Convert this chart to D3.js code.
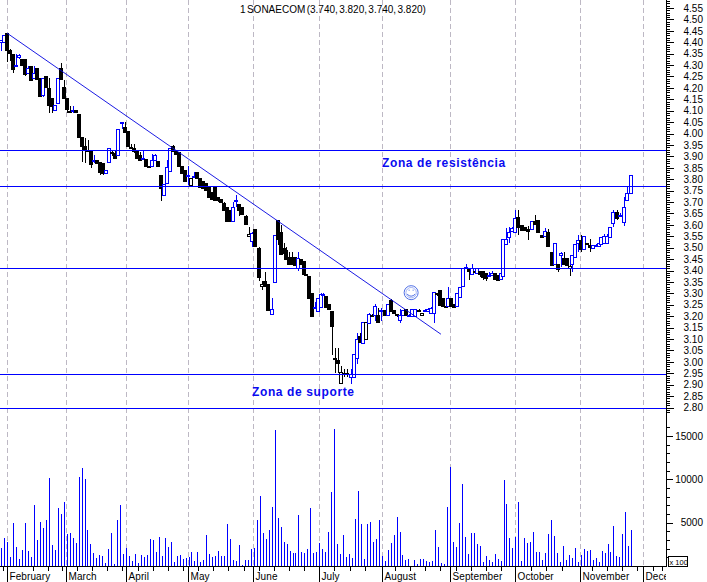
<!DOCTYPE html>
<html><head><meta charset="utf-8">
<script src="https://cdnjs.cloudflare.com/ajax/libs/d3/7.8.5/d3.min.js"></script>
<style>
html,body{margin:0;padding:0;background:#fff;overflow:hidden}
svg{display:block}
text{font-family:"Liberation Sans",Arial,sans-serif;fill:#000}
</style></head><body><svg id="c" width="707" height="582"></svg>
<script>
const title = "1 SONAECOM (3.740, 3.820, 3.740, 3.820)";
const open = [4.40,4.40,4.44,4.365,4.35,4.30,4.335,4.325,4.325,4.265,4.295,4.245,4.285,4.245,4.17,4.25,4.20,4.155,4.105,4.135,4.285,4.205,4.155,4.10,4.105,4.105,4.085,3.985,3.945,3.93,3.925,3.885,3.885,3.875,3.87,3.825,3.875,3.92,3.915,3.905,4.05,4.03,4.01,3.935,3.935,3.925,3.905,3.895,3.89,3.86,3.86,3.885,3.88,3.82,3.73,3.785,3.835,3.945,3.925,3.92,3.86,3.84,3.82,3.775,3.815,3.83,3.805,3.79,3.785,3.765,3.745,3.77,3.72,3.715,3.695,3.68,3.665,3.62,3.71,3.69,3.68,3.64,3.55,3.53,3.58,3.50,3.33,3.355,3.34,3.21,3.35,3.62,3.57,3.497,3.49,3.46,3.46,3.46,3.41,3.45,3.44,3.385,3.375,3.30,3.24,3.225,3.24,3.295,3.29,3.255,3.222,3.015,3.01,2.905,2.95,2.95,2.93,2.935,3.015,3.115,3.085,3.10,3.17,3.20,3.205,3.205,3.225,3.225,3.205,3.27,3.225,3.21,3.185,3.205,3.23,3.205,3.20,3.20,3.225,3.205,3.225,3.22,3.215,3.215,3.30,3.315,3.28,3.245,3.245,3.28,3.255,3.245,3.285,3.33,3.415,3.41,3.385,3.40,3.39,3.40,3.40,3.39,3.38,3.38,3.39,3.38,3.365,3.38,3.52,3.55,3.57,3.57,3.635,3.60,3.59,3.58,3.58,3.615,3.62,3.555,3.555,3.57,3.48,3.43,3.43,3.465,3.455,3.455,3.41,3.43,3.46,3.52,3.535,3.495,3.52,3.51,3.495,3.51,3.505,3.515,3.52,3.52,3.545,3.605,3.655,3.645,3.615,3.71,3.74];
const high = [4.41,4.43,4.44,4.37,4.35,4.35,4.35,4.325,4.325,4.295,4.295,4.295,4.285,4.245,4.245,4.25,4.245,4.155,4.125,4.245,4.31,4.235,4.155,4.12,4.12,4.105,4.085,3.985,3.98,3.97,3.925,3.905,3.885,3.875,3.87,3.84,3.935,3.93,3.93,4.02,4.05,4.05,4.01,3.955,3.955,3.925,3.92,3.925,3.89,3.86,3.91,3.91,3.88,3.82,3.78,3.885,3.935,3.95,3.925,3.92,3.86,3.84,3.86,3.805,3.83,3.83,3.805,3.79,3.785,3.765,3.745,3.77,3.72,3.715,3.70,3.68,3.665,3.70,3.73,3.69,3.68,3.645,3.59,3.57,3.58,3.505,3.355,3.395,3.34,3.28,3.555,3.62,3.60,3.52,3.505,3.48,3.48,3.46,3.48,3.45,3.44,3.385,3.375,3.30,3.26,3.28,3.30,3.30,3.29,3.255,3.222,3.06,3.06,2.98,2.97,2.97,2.97,3.035,3.125,3.125,3.176,3.175,3.215,3.21,3.255,3.235,3.235,3.225,3.255,3.275,3.225,3.21,3.23,3.225,3.23,3.21,3.23,3.23,3.23,3.215,3.23,3.235,3.24,3.305,3.30,3.315,3.28,3.25,3.33,3.28,3.255,3.30,3.33,3.41,3.43,3.41,3.43,3.41,3.41,3.40,3.40,3.39,3.395,3.40,3.39,3.38,3.39,3.54,3.585,3.59,3.59,3.665,3.665,3.60,3.59,3.595,3.615,3.645,3.62,3.555,3.585,3.58,3.48,3.52,3.43,3.48,3.48,3.455,3.43,3.47,3.515,3.555,3.555,3.55,3.52,3.54,3.51,3.515,3.52,3.545,3.56,3.56,3.59,3.665,3.665,3.65,3.72,3.77,3.82];
const low = [4.36,4.40,4.315,4.32,4.265,4.295,4.325,4.30,4.25,4.26,4.235,4.245,4.235,4.165,4.16,4.20,4.09,4.09,4.105,4.135,4.235,4.155,4.09,4.095,4.09,4.095,3.985,3.875,3.87,3.925,3.85,3.87,3.87,3.82,3.82,3.825,3.875,3.90,3.895,3.905,4.02,4.01,3.945,3.935,3.915,3.895,3.885,3.895,3.86,3.855,3.86,3.885,3.86,3.705,3.73,3.785,3.835,3.925,3.91,3.86,3.83,3.79,3.775,3.775,3.81,3.80,3.765,3.76,3.755,3.72,3.71,3.71,3.70,3.695,3.665,3.62,3.615,3.62,3.68,3.64,3.65,3.605,3.545,3.505,3.505,3.355,3.315,3.335,3.225,3.205,3.35,3.51,3.475,3.473,3.45,3.43,3.425,3.425,3.40,3.43,3.385,3.38,3.28,3.20,3.23,3.225,3.24,3.29,3.24,3.235,3.03,2.95,2.95,2.905,2.935,2.935,2.905,2.935,2.99,3.09,3.085,3.10,3.17,3.20,3.18,3.175,3.18,3.205,3.205,3.22,3.21,3.195,3.17,3.205,3.205,3.20,3.20,3.20,3.22,3.205,3.22,3.22,3.21,3.17,3.29,3.25,3.245,3.24,3.245,3.245,3.24,3.245,3.285,3.33,3.405,3.36,3.38,3.39,3.385,3.37,3.36,3.355,3.37,3.375,3.365,3.36,3.365,3.38,3.515,3.52,3.57,3.57,3.555,3.58,3.575,3.535,3.58,3.60,3.567,3.545,3.555,3.51,3.425,3.43,3.395,3.415,3.43,3.425,3.375,3.395,3.46,3.48,3.48,3.495,3.52,3.48,3.495,3.505,3.505,3.515,3.52,3.52,3.545,3.59,3.62,3.64,3.595,3.71,3.74];
const close = [4.41,4.43,4.365,4.35,4.285,4.30,4.345,4.30,4.26,4.285,4.235,4.265,4.235,4.165,4.245,4.20,4.125,4.12,4.125,4.245,4.235,4.155,4.105,4.10,4.105,4.095,3.985,3.945,3.93,3.925,3.87,3.885,3.87,3.83,3.825,3.84,3.935,3.915,3.895,4.02,4.05,4.01,3.945,3.94,3.92,3.895,3.885,3.895,3.86,3.855,3.885,3.905,3.86,3.765,3.78,3.855,3.935,3.925,3.91,3.86,3.83,3.79,3.82,3.805,3.815,3.805,3.765,3.76,3.755,3.72,3.715,3.71,3.705,3.70,3.665,3.62,3.615,3.68,3.71,3.665,3.65,3.605,3.56,3.565,3.505,3.375,3.34,3.335,3.225,3.23,3.555,3.535,3.475,3.473,3.45,3.43,3.428,3.425,3.455,3.43,3.385,3.38,3.28,3.20,3.24,3.28,3.295,3.295,3.24,3.235,3.155,3.015,2.995,2.955,2.95,2.945,2.945,3.035,3.10,3.09,3.176,3.175,3.21,3.205,3.245,3.175,3.225,3.205,3.255,3.22,3.21,3.205,3.205,3.225,3.205,3.205,3.23,3.23,3.225,3.215,3.225,3.23,3.235,3.305,3.30,3.25,3.245,3.24,3.28,3.245,3.24,3.30,3.33,3.41,3.415,3.395,3.41,3.40,3.41,3.385,3.375,3.37,3.38,3.39,3.365,3.36,3.39,3.54,3.54,3.57,3.585,3.63,3.59,3.58,3.575,3.57,3.615,3.60,3.567,3.545,3.575,3.51,3.425,3.52,3.41,3.475,3.43,3.425,3.42,3.47,3.515,3.535,3.495,3.55,3.52,3.50,3.51,3.51,3.52,3.545,3.55,3.55,3.59,3.655,3.63,3.645,3.68,3.74,3.82];
const volume = [2110,3280,2810,1050,4920,2220,820,1870,4920,1760,1050,7020,3040,5030,4330,5270,10180,2460,1870,6670,5970,7370,3740,3860,3280,2690,10300,11350,10060,4100,2570,1520,940,1290,1170,350,1990,3860,230,5270,7020,1400,2110,1170,590,1400,350,1290,1050,1290,3160,3040,1640,3390,1170,3280,2220,2810,470,1170,1290,820,940,1050,1640,590,1640,470,700,3630,1400,1050,1170,1760,1170,1170,4800,3160,700,590,2460,120,700,700,1990,2110,5270,8070,3860,3160,4100,6790,15680,5500,4450,2810,2570,1760,1520,1520,5850,1640,1520,1990,6670,1520,1640,2690,1990,1640,3980,8540,15800,2570,1400,3630,1050,1400,
940,5380,8660,4800,820,4800,5030,2810,3160,5270,1170,590,1870,2690,3630,5620,3980,1290,700,820,0,700,230,820,820,590,470,590,4100,2220,350,230,6790,11470,2810,2220,4920,9480,3390,1400,3860,3860,2570,2340,470,1170,700,470,1400,820,590,9950,7140,3280,2110,3390,7370,590,3280,2690,2810,3980,1640,1640,700,1520,3740,5270,3510,1520,470,2340,700,1290,940,2110,470,1290,1990,1760,1870,700,940,470,1760,1520,2570,1640,4560,1170,1050,3740,6200,2340,4100];
const supportResistance = [3.928,3.772,3.41,2.945,2.80];
const trendStart = [2,4.44];
const trendEnd = [145.4,3.121];
const months = ["February","March","April","May","June","July","August","September","October","November","December"];
const monthBars = [1.9,21.5,41.3,61.6,83.1,104.9,125.7,148.1,169.6,191.1,211.9];
const weekBars = [0.5,1.9,10.5,15.5,20,21.5,25,30,35,40,41.3,45,50,55,60,61.6,65,70,75,80,83.1,85,90,95,100,104.9,110,115,120,125.7,130,135,140,145,148.1,150,155,160,165,169.6,175,180,185,191.1,195,200,205,210,211.9,215,218];
const priceLabels = [4.55,4.50,4.45,4.40,4.35,4.30,4.25,4.20,4.15,4.10,4.05,4.00,3.95,3.90,3.85,3.80,3.75,3.70,3.65,3.60,3.55,3.50,3.45,3.40,3.35,3.30,3.25,3.20,3.15,3.10,3.05,3.00,2.95,2.90,2.85,2.80];
const volumeLabels = [5000,10000,15000];
const volumeMinor = [1000,2000,3000,4000,6000,7000,8000,9000,11000,12000,13000,14000,16000];
const annotations = [["Zona de resistência",382,167],["Zona de suporte",252,396]];

const svg = d3.select("#c");
const BLUE = "#0000ff";
// session positions are not perfectly even: anchored bar numbers keep them on their dates
const x = d3.scaleLinear().domain([0,79,90,110,143,171,183,203,208]).range([1,239,275,332,434,515,555,613,631]);
const xs = d3.scaleLinear().domain([0,208]).range([1.3,631.3]);
const xv = d3.scaleLinear().domain([0,volume.length-1]).range([1.3,631.3]);
const y = d3.scaleLinear().domain([4.55,2.80]).range([8,407.5]);
const yv = d3.scaleLinear().domain([0,15000]).range([566,436]);
const AX = 666;
const px = v => Math.round(v)+0.5;

svg.append("defs").append("clipPath").attr("id","plot").append("rect").attr("width",666).attr("height",582);
const plot = svg.append("g").attr("clip-path","url(#plot)");

// month grid
plot.append("g").attr("shape-rendering","crispEdges").selectAll("line").data(monthBars).join("line")
  .attr("x1",d=>px(xs(d))).attr("x2",d=>px(xs(d))).attr("y1",0).attr("y2",566)
  .attr("stroke","#bdb8c4").attr("stroke-dasharray","5,3");

// candles
const bars = d3.range(open.length);
const isBlue = i => i===0 || close[i]>=close[i-1];
const col = i => isBlue(i) ? BLUE : "#000";
const cg = plot.append("g").attr("shape-rendering","crispEdges");
cg.selectAll("line").data(bars).join("line")
  .attr("x1",i=>px(x(i))).attr("x2",i=>px(x(i)))
  .attr("y1",i=>y(high[i])).attr("y2",i=>y(low[i])).attr("stroke",col);
cg.selectAll("rect").data(bars).join("rect")
  .attr("x",i=>Math.round(x(i))-1.5).attr("width",3)
  .attr("y",i=>Math.round(y(Math.max(open[i],close[i])))+0.5)
  .attr("height",i=>Math.max(1,Math.round(Math.abs(y(open[i])-y(close[i])))))
  .attr("fill",i=>close[i]<open[i]?col(i):"#fff").attr("stroke",col);

// horizontal levels and trend line
plot.append("g").selectAll("line").data(supportResistance).join("line")
  .attr("x1",0).attr("x2",AX).attr("y1",d=>px(y(d))).attr("y2",d=>px(y(d))).attr("stroke",BLUE);
plot.append("line").attr("x1",x(trendStart[0])).attr("y1",y(trendStart[1]))
  .attr("x2",x(trendEnd[0])).attr("y2",y(trendEnd[1])).attr("stroke","#0000e0").attr("stroke-width",0.9);

// smiley, placed on the price and bar scales
const s = plot.append("g").attr("transform",`translate(${x(135.6)},${y(3.303)})`)
  .attr("fill","none").attr("stroke","#4f6fe6");
s.append("circle").attr("r",7);
s.append("circle").attr("r",5.2).attr("stroke-width",0.5);
s.append("path").attr("d","M-4 1.5Q0 5.5 4 1.5");
s.append("path").attr("d","M-2.5 -2.5h1M1.5 -2.5h1");

// annotations
svg.append("g").selectAll("text").data(annotations).join("text")
  .attr("x",d=>d[1]).attr("y",d=>d[2]).text(d=>d[0])
  .attr("font-size",12).attr("font-weight","bold").attr("letter-spacing",0.62)
  .style("fill","#0a0af0");

// title
svg.append("text").attr("x",240).attr("y",12.5).attr("font-size",10).attr("word-spacing",-1.4).text(title);

// volume bars
plot.append("g").attr("shape-rendering","crispEdges").selectAll("line").data(volume).join("line")
  .attr("x1",(d,i)=>px(xv(i))).attr("x2",(d,i)=>px(xv(i)))
  .attr("y1",d=>yv(d)).attr("y2",566).attr("stroke",BLUE);

// right price axis
const styleAxis = g => { g.attr("shape-rendering","crispEdges"); g.selectAll(".domain").remove(); g.selectAll("text").attr("font-family",null).attr("font-size",null); };
const minorPrices = d3.range(0,181).map(k=>2.78+k*0.01);
svg.append("g").attr("transform",`translate(${AX},0)`)
  .call(d3.axisRight(y).tickValues(minorPrices).tickSize(4).tickFormat("")).call(styleAxis);
const pa = svg.append("g").attr("transform",`translate(${AX},0)`)
  .call(d3.axisRight(y).tickValues(priceLabels).tickSize(8).tickPadding(10).tickFormat(d3.format(".2f"))).call(styleAxis);
pa.selectAll("text").attr("font-size",10).attr("text-anchor","end").attr("x",37);

// right volume axis
svg.append("g").attr("transform",`translate(${AX},0)`)
  .call(d3.axisRight(yv).tickValues(volumeMinor).tickSize(4).tickFormat("")).call(styleAxis);
const va = svg.append("g").attr("transform",`translate(${AX},0)`)
  .call(d3.axisRight(yv).tickValues(volumeLabels).tickSize(7).tickFormat(d3.format("d"))).call(styleAxis);
va.selectAll("text").attr("font-size",10).attr("text-anchor","end").attr("x",37);
svg.append("line").attr("x1",AX+0.5).attr("x2",AX+0.5).attr("y1",0).attr("y2",566.5).attr("stroke","#000").attr("shape-rendering","crispEdges");

// bottom axis
const ba = plot.append("g").attr("transform","translate(0,566)")
  .call(d3.axisBottom(xs).tickValues(weekBars).tickSize(5).tickFormat("")).call(styleAxis);
plot.append("line").attr("x1",0).attr("x2",AX).attr("y1",566.5).attr("y2",566.5).attr("stroke","#000").attr("shape-rendering","crispEdges");
plot.append("g").attr("shape-rendering","crispEdges").selectAll("line").data(monthBars).join("line")
  .attr("x1",d=>px(xs(d))).attr("x2",d=>px(xs(d))).attr("y1",566).attr("y2",582).attr("stroke","#000");
plot.append("g").selectAll("text").data(months).join("text")
  .attr("x",(d,i)=>px(xs(monthBars[i]))+2).attr("y",580).attr("font-size",10).attr("letter-spacing",0.1).text(d=>d);

// x 100 box
svg.append("rect").attr("x",668.5).attr("y",556.5).attr("width",19).attr("height",9.5).attr("fill","#fff").attr("stroke","#000").attr("shape-rendering","crispEdges");
svg.append("text").attr("x",669.5).attr("y",564.5).attr("font-size",7.5).text("x 100");
</script></body></html>
